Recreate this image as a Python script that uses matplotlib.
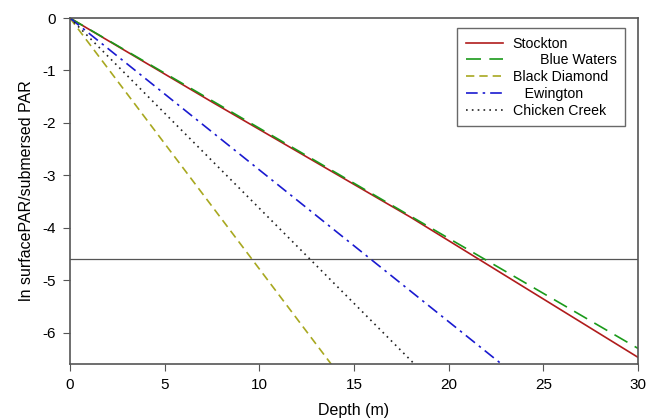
import matplotlib.pyplot as plt

# depth (m) and ln(surface PAR / submersed PAR)
stockton_x = [0, 7.5, 18, 30]
stockton_y = [0, -1.6, -3.8, -6.47]
blue_waters_x = [0, 30]
blue_waters_y = [0, -6.3]
black_diamond_x = [0, 13.8]
black_diamond_y = [0, -6.6]
ewington_x = [0, 22.8]
ewington_y = [0, -6.6]
chicken_creek_x = [0, 18.2]
chicken_creek_y = [0, -6.6]
ref_level = -4.6

x_ticks = [0, 5, 10, 15, 20, 25, 30]
y_ticks = [0, -1, -2, -3, -4, -5, -6]

plt.rcParams['font.family'] = ['Liberation Sans', 'DejaVu Sans']
plt.rcParams['axes.unicode_minus'] = False

fig = plt.figure(figsize=(6.47, 4.19), dpi=100)
ax = fig.add_axes([0.108, 0.131, 0.878, 0.826])

ax.axhline(ref_level, color='#555555', lw=0.9)
ax.plot(stockton_x, stockton_y, color='#b01c1c', lw=1.2, label='Stockton')
ax.plot(blue_waters_x, blue_waters_y, color='#1a9a1a', lw=1.2,
        dashes=(9, 5), label='       Blue Waters')
ax.plot(black_diamond_x, black_diamond_y, color='#a8a820', lw=1.2,
        dashes=(5, 3), label='Black Diamond')
ax.plot(ewington_x, ewington_y, color='#1a1ad0', lw=1.2,
        dashes=(7, 3, 1.5, 3), label='   Ewington')
ax.plot(chicken_creek_x, chicken_creek_y, color='#222222', lw=1.2,
        dashes=(1, 2.5), label='Chicken Creek')

ax.set_xlim(0, 30)
ax.set_ylim(-6.6, 0)
ax.set_xticks(x_ticks)
ax.set_yticks(y_ticks)
ax.tick_params(direction='out', length=5, pad=5, labelsize=11, color='#555555')
for s in ax.spines.values():
    s.set_color('#555555')
    s.set_linewidth(1.2)

ax.set_xlabel('Depth (m)', fontsize=11.5, labelpad=8)
ax.set_ylabel('ln surfacePAR/submersed PAR', fontsize=11.5, labelpad=6)

leg = ax.legend(loc='upper right', bbox_to_anchor=(0.977, 0.971), fontsize=10.2,
                frameon=True, fancybox=False, edgecolor='#444444',
                handlelength=2.6, handletextpad=0.7, labelspacing=0.2,
                borderpad=0.6, borderaxespad=0)
leg.get_frame().set_linewidth(1.0)

plt.savefig('out.png', dpi=100)
